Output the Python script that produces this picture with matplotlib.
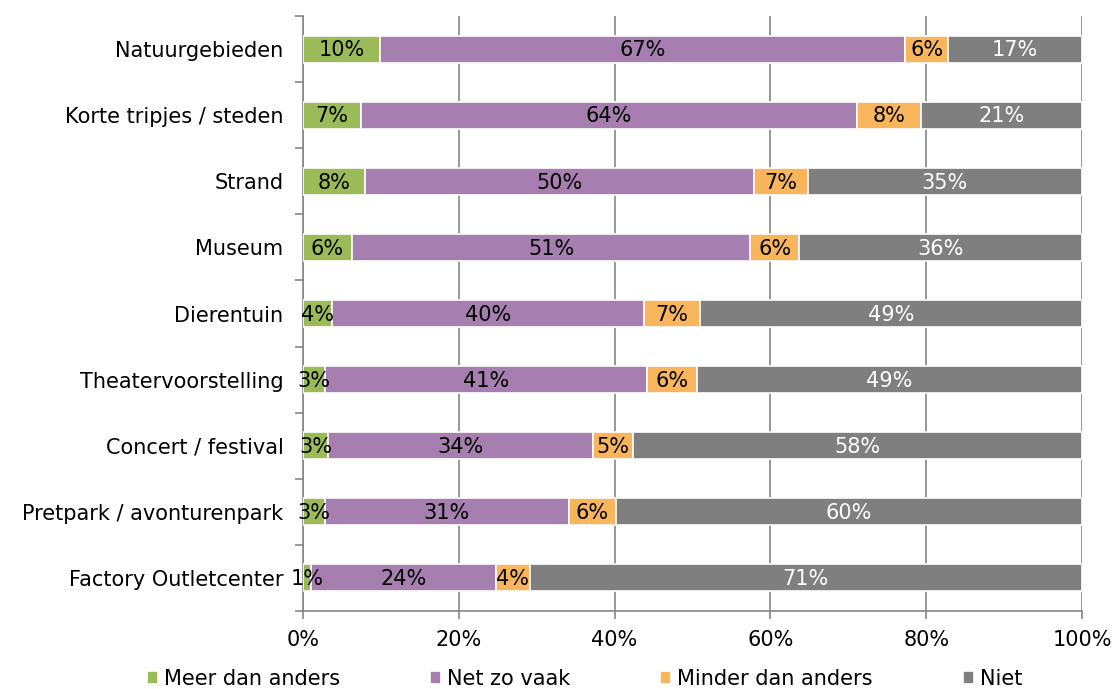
import matplotlib.pyplot as plt
import numpy as np

# --- Datos ---
categorias = ['Natuurgebieden', 'Korte tripjes / steden', 'Strand', 'Museum',
              'Dierentuin', 'Theatervoorstelling', 'Concert / festival',
              'Pretpark / avonturenpark', 'Factory Outletcenter']
meer = [9.9, 7.4, 8.0, 6.3, 3.7, 2.8, 3.2, 2.8, 1.0]
net_zo = [67.4, 63.7, 49.9, 51.1, 40.1, 41.4, 34.0, 31.3, 23.8]
minder = [5.5, 8.2, 6.9, 6.3, 7.2, 6.4, 5.2, 6.1, 4.3]
niet = [17.2, 20.7, 35.2, 36.3, 49.0, 49.4, 57.6, 59.8, 70.9]
etiquetas = [
    ['10%', '7%', '8%', '6%', '4%', '3%', '3%', '3%', '1%'],
    ['67%', '64%', '50%', '51%', '40%', '41%', '34%', '31%', '24%'],
    ['6%', '8%', '7%', '6%', '7%', '6%', '5%', '6%', '4%'],
    ['17%', '21%', '35%', '36%', '49%', '49%', '58%', '60%', '71%'],
]
series = ['Meer dan anders', 'Net zo vaak', 'Minder dan anders', 'Niet']
colores = ['#9BBB59', '#A77EB0', '#F9B55C', '#7F7F7F']
color_texto = ['black', 'black', 'black', 'white']

plt.rcParams['font.family'] = 'DejaVu Sans'
fs = 15

fig = plt.figure(figsize=(11.16, 6.89), dpi=100)
ax = fig.add_axes([303 / 1116, 1 - 611 / 689, 779 / 1116, 595 / 689])

y = np.arange(len(categorias))
izq = np.zeros(len(categorias))
barras = []
for vals, col, tcol, labs, nombre in zip([meer, net_zo, minder, niet], colores,
                                         color_texto, etiquetas, series):
    vals = np.array(vals)
    b = ax.barh(y, vals, left=izq, height=0.41, color=col, edgecolor='white',
                linewidth=1.2, label=nombre, zorder=3)
    barras.append(b)
    for yi, l, v, lab in zip(y, izq, vals, labs):
        ax.text(l + v / 2, yi + 0.02, lab, ha='center', va='center', color=tcol,
                fontsize=fs, zorder=4)
    izq += vals

ax.set_xlim(0, 100)
ax.set_ylim(len(categorias) - 0.5, -0.5)
ax.set_yticks(y)
ax.set_yticklabels(categorias, fontsize=fs)
ax.set_yticks(np.arange(-0.5, len(categorias)), minor=True)
ax.tick_params(axis='y', which='major', length=0, pad=14)
ax.tick_params(axis='y', which='minor', length=6, color='#868686', width=1.2)
ax.set_xticks(np.arange(0, 101, 20))
ax.set_xticklabels([f'{v}%' for v in range(0, 101, 20)], fontsize=fs)
ax.tick_params(axis='x', length=6, color='#868686', width=1.2, pad=8)

ax.grid(axis='x', color='#868686', linewidth=1.2, zorder=0)
for s in ['top', 'right']:
    ax.spines[s].set_visible(False)
for s in ['left', 'bottom']:
    ax.spines[s].set_color('#868686')
    ax.spines[s].set_linewidth(1.2)

# leyenda: una entrada por posición, como en el original
pos_x = [147, 430, 660, 963]
for b, nombre, px in zip(barras, series, pos_x):
    fig.legend([b], [nombre], loc='center left', frameon=False, fontsize=fs,
               bbox_to_anchor=(px / 1116, 1 - 679 / 689), handlelength=0.55,
               handleheight=0.55, handletextpad=0.25, borderpad=0, borderaxespad=0)

plt.savefig('out.png', dpi=100)
